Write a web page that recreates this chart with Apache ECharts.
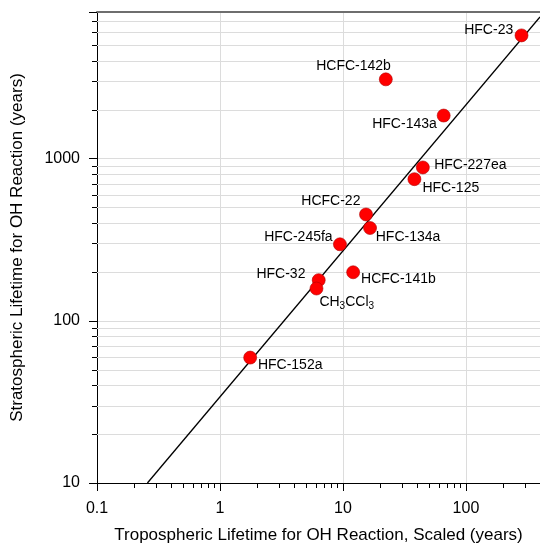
<!DOCTYPE html>
<html>
<head>
<meta charset="utf-8">
<script src="https://cdn.jsdelivr.net/npm/echarts@6/dist/echarts.min.js"></script>
<style>
  html, body { margin: 0; padding: 0; background: #fff; }
  #main { width: 540px; height: 544px; }
</style>
</head>
<body>
<div id="main"></div>
<script>
"use strict";

// 物种名称
const species = ['HFC-23', 'HCFC-142b', 'HFC-143a', 'HFC-227ea', 'HFC-125', 'HCFC-22',
  'HFC-134a', 'HFC-245fa', 'HFC-32', 'CH3CCl3', 'HCFC-141b', 'HFC-152a'];
// 对流层寿命 (x)
const tropoLife = [283, 22.3, 65.9, 44.6, 38.1, 15.4, 16.6, 9.45, 6.35, 6.09, 12.1, 1.76];
// 平流层寿命 (y)
const stratoLife = [5740, 3076, 1840, 881, 746, 452, 373, 296, 178, 158, 199, 59.3];
// 参考线两端
const fitX = [0.257, 400];
const fitY = [10, 7460];
// 次刻度
const xMinorTicks = [0.2, 0.3, 0.4, 0.5, 0.6, 0.7, 0.8, 0.9, 2, 3, 4, 5, 6, 7, 8, 9,
  20, 30, 40, 50, 60, 70, 80, 90, 200, 300];
const yMinorTicks = [20, 30, 40, 50, 60, 70, 80, 90, 200, 300, 400, 500, 600, 700, 800, 900,
  2000, 3000, 4000, 5000, 6000, 7000];

const FONT = 'Liberation Sans, Arial, sans-serif';

// 标签位置
const labelPlace = {
  'HFC-23': ['left', [3.5, -5.7]],
  'HCFC-142b': ['left', [16.9, -13.7]],
  'HFC-143a': ['left', [4.9, 9]],
  'HFC-227ea': ['right', [-0.5, -2]],
  'HFC-125': ['right', [-3.8, 9.3]],
  'HCFC-22': ['left', [6.2, -13.3]],
  'HFC-134a': ['right', [-6.1, 9.3]],
  'HFC-245fa': ['left', [4.5, -7.6]],
  'HFC-32': ['left', [-1.5, -5.7]],
  'CH3CCl3': ['right', [-8.9, 13.4]],
  'HCFC-141b': ['right', [-3.9, 7]],
  'HFC-152a': ['right', [-4.1, 7.3]],
};

function decadeLabel(v) {
  const e = Math.round(Math.log10(v));
  if (Math.abs(Math.log10(v) - e) > 1e-6) return '';
  return e < 0 ? Math.pow(10, e).toFixed(-e) : String(Math.pow(10, e));
}

const points = species.map(function (name, i) {
  const p = labelPlace[name];
  const item = {
    name: name,
    value: [tropoLife[i], stratoLife[i]],
    label: { position: p[0], offset: p[1] },
  };
  if (name === 'CH3CCl3') {
    item.label.formatter = '{a|CH}{s|3}{a|CCl}{s|3}';
  }
  return item;
});

let myChart = echarts.init(document.getElementById('main'));

let option = {
  animation: false,
  textStyle: { fontFamily: FONT },
  grid: { left: 97, right: 0, top: 12, bottom: 61, outerBoundsMode: 'none', containLabel: false },
  xAxis: [
    {
      type: 'log',
      min: 0.1,
      max: 400,
      name: 'Tropospheric Lifetime for OH Reaction, Scaled (years)',
      nameLocation: 'middle',
      nameGap: 44,
      nameTextStyle: { fontSize: 17, color: '#000', fontFamily: FONT },
      axisLine: { lineStyle: { color: '#000', width: 1 } },
      axisTick: { length: 8, lineStyle: { color: '#000' } },
      axisLabel: {
        fontSize: 16, color: '#000', margin: 18, fontFamily: FONT,
        formatter: decadeLabel,
      },
      splitLine: { show: true, lineStyle: { color: '#dcdcdc', width: 1 } },
    },
    { // 顶部边框
      type: 'log',
      position: 'top',
      min: 0.1,
      max: 400,
      axisLine: { lineStyle: { color: '#6e6e6e', width: 2 } },
      axisTick: { show: false },
      axisLabel: { show: false },
      splitLine: { show: false },
    },
  ],
  yAxis: {
    type: 'log',
    min: 10,
    max: 8000,
    name: 'Stratospheric Lifetime for OH Reaction (years)',
    nameLocation: 'middle',
    nameGap: 71,
    nameTextStyle: { fontSize: 17, color: '#000', fontFamily: FONT },
    axisLine: { lineStyle: { color: '#000', width: 1 } },
    axisTick: { length: 8, lineStyle: { color: '#000' } },
    axisLabel: {
      fontSize: 16, color: '#000', margin: 17, fontFamily: FONT,
      formatter: decadeLabel,
    },
    splitLine: { show: true, lineStyle: { color: '#dcdcdc', width: 1 } },
  },
  series: [
    { // 次刻度与横向网格
      type: 'custom',
      silent: true,
      clip: false,
      z: 1,
      data: yMinorTicks.map(function (v) { return [0.1, v]; }),
      renderItem: function (params, api) {
        const rect = params.coordSys;
        const pt = api.coord([0.1, api.value(1)]);
        const y = Math.round(pt[1]) + 0.5;
        return {
          type: 'group',
          children: [
            {
              type: 'line',
              shape: { x1: rect.x, y1: y, x2: rect.x + rect.width, y2: y },
              style: { stroke: '#dcdcdc', lineWidth: 1 },
            },
            {
              type: 'line',
              shape: { x1: rect.x - 5, y1: y, x2: rect.x, y2: y },
              style: { stroke: '#000', lineWidth: 1 },
            },
          ],
        };
      },
    },
    {
      type: 'custom',
      silent: true,
      clip: false,
      z: 1,
      data: xMinorTicks.map(function (v) { return [v, 10]; }),
      renderItem: function (params, api) {
        const rect = params.coordSys;
        const pt = api.coord([api.value(0), 10]);
        const x = Math.round(pt[0]) + 0.5;
        const yb = rect.y + rect.height;
        return {
          type: 'line',
          shape: { x1: x, y1: yb, x2: x, y2: yb + 5 },
          style: { stroke: '#000', lineWidth: 1 },
        };
      },
    },
    { // 参考线
      type: 'line',
      data: fitX.map(function (x, i) { return [x, fitY[i]]; }),
      symbol: 'none',
      silent: true,
      z: 2,
      lineStyle: { color: '#000', width: 1.3 },
    },
    {
      type: 'scatter',
      data: points,
      symbolSize: 13,
      z: 3,
      itemStyle: { color: '#ff0000', borderColor: '#b00000', borderWidth: 0.6, opacity: 1 },
      label: {
        show: true,
        fontSize: 14,
        color: '#000',
        fontFamily: FONT,
        formatter: '{b}',
        rich: {
          a: { fontSize: 14, color: '#000', fontFamily: FONT, lineHeight: 18 },
          s: { fontSize: 10, color: '#000', fontFamily: FONT, lineHeight: 10, verticalAlign: 'bottom' },
        },
      },
    },
  ],
};

myChart.setOption(option);
</script>
</body>
</html>
